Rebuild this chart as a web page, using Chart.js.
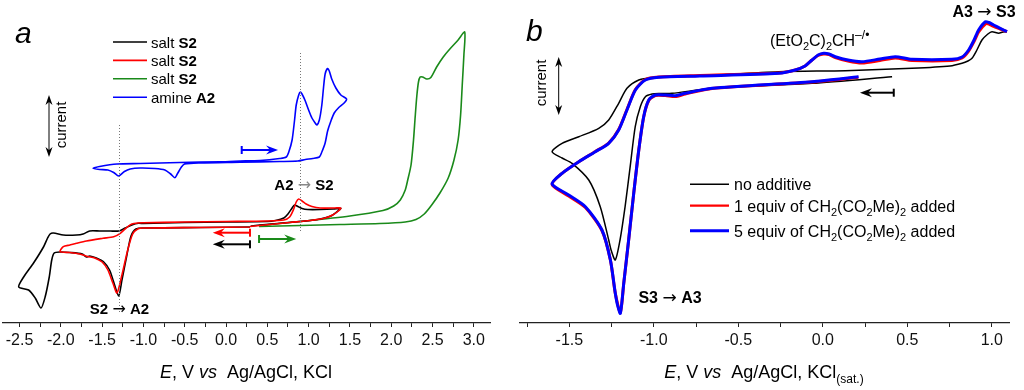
<!DOCTYPE html>
<html>
<head>
<meta charset="utf-8">
<script src="https://cdn.jsdelivr.net/npm/chart.js@4.4.1/dist/chart.umd.min.js"></script>
<style>
  body { margin: 0; background: #fff; }
  #wrap { position: relative; width: 1024px; height: 390px; }
  .panel { position: absolute; top: 0; width: 512px; height: 390px; }
</style>
</head>
<body>
<div id="wrap">
  <div class="panel" style="left:0"><canvas id="chartA"></canvas></div>
  <div class="panel" style="left:512px"><canvas id="chartB"></canvas></div>
</div>
<script>
// ---- panel a: potentials (V) and currents (arbitrary units) ----
const blackA_E = [0.29, -0.31, -1.00, -1.09, -1.15, -1.20, -1.26, -1.30, -1.36, -1.41, -1.48, -1.57, -1.65, -1.69, -1.74, -1.89, -2.01, -2.08,
  -2.11, -2.14, -2.19, -2.24, -2.31, -2.39, -2.51, -2.45, -2.33, -2.21, -2.16, -2.13, -2.09, -1.97, -1.81, -1.73, -1.65, -1.53, -1.40, -1.30,
  -1.22, -1.14, -1.06, -1.00, -0.50, 0.00, 0.50, 0.60, 0.70, 0.75, 0.80, 0.83, 0.87, 0.92, 0.99, 1.14, 1.30, 1.39,
  1.34, 1.27, 1.14, 0.96, 0.69, 0.41, 0.30];
const blackA_I = [9.6, 9.55, 9.5, 9.4, 8.7, 6.8, 4.3, 2.7, 4.1, 5.3, 6.1, 6.5, 6.7, 6.6, 6.9, 7.05, 7.1, 7.0,
  6.3, 4.6, 2.6, 1.5, 2.5, 3.3, 3.6, 4.6, 6.0, 7.6, 8.5, 8.9, 9.0, 8.8, 8.8, 8.9, 9.2, 9.2, 9.2, 9.2,
  9.5, 9.8, 9.97, 9.95, 10.05, 10.1, 10.15, 10.25, 10.5, 10.9, 11.5, 11.8, 11.65, 11.45, 11.35, 11.35, 11.4, 11.47,
  11.1, 10.7, 10.4, 10.2, 10.0, 9.8, 9.7];

const redA_E = [0.29, -0.31, -1.00, -1.07, -1.13, -1.19, -1.26, -1.32, -1.37, -1.43, -1.50, -1.59, -1.68, -1.77, -1.89, -2.01,
  -1.97, -1.89, -1.81, -1.69, -1.49, -1.36, -1.28, -1.20, -1.14, -1.07, -1.00, -0.50, 0.00, 0.50, 0.70, 0.77, 0.82, 0.85, 0.88,
  0.92, 0.97, 1.04, 1.14, 1.32, 1.39, 1.36, 1.29, 1.20, 1.02, 0.77, 0.53, 0.29];
const redA_I = [9.6, 9.55, 9.5, 9.4, 8.9, 7.3, 4.8, 3.0, 4.0, 5.3, 6.1, 6.5, 6.65, 6.9, 7.05, 7.13,
  7.63, 7.8, 7.97, 8.2, 8.47, 8.63, 8.97, 9.57, 9.9, 10.0, 10.02, 10.1, 10.15, 10.2, 10.3, 10.6, 11.4, 12.1, 12.4,
  12.2, 11.9, 11.65, 11.5, 11.5, 11.5, 11.2, 10.8, 10.5, 10.25, 10.05, 9.85, 9.65];

const greenA_E = [0.40, 0.90, 1.50, 1.90, 2.03, 2.11, 2.17, 2.20, 2.24, 2.27, 2.29, 2.31, 2.33, 2.35, 2.38, 2.43, 2.48, 2.55, 2.63, 2.71, 2.81, 2.89,
  2.88, 2.86, 2.84, 2.81, 2.76, 2.69, 2.59, 2.49, 2.40, 2.30, 2.17, 1.86, 1.38, 0.90, 0.40];
const greenA_I = [9.75, 10.15, 10.7, 11.25, 11.7, 12.3, 13.3, 14.3, 15.8, 18.3, 20.6, 22.7, 24.1, 24.6, 24.6, 24.4, 24.55, 25.6, 26.6, 27.4, 28.3, 29.1,
  26.8, 23.8, 20.8, 18.3, 16.3, 14.5, 13.0, 11.8, 10.9, 10.35, 10.1, 9.95, 9.85, 9.75, 9.65];

const blueA_E = [0.17, 0.41, 0.65, 0.73, 0.76, 0.80, 0.83, 0.85, 0.88, 0.90, 0.92, 0.96, 1.00, 1.04, 1.08, 1.10, 1.13, 1.16, 1.18, 1.20, 1.23, 1.25, 1.28, 1.33, 1.39, 1.46,
  1.43, 1.36, 1.31, 1.27, 1.23, 1.20, 1.16, 1.13, 1.05, 0.96, 0.87, 0.65, 0.17, -0.31, -0.50, -0.54, -0.59, -0.62, -0.67, -0.74, -0.86, -1.04, -1.16, -1.23, -1.30,
  -1.36, -1.43, -1.53, -1.61, -1.53, -1.32, -1.04, -0.56, -0.07, 0.17];
const blueA_I = [16.2, 16.25, 16.45, 16.6, 17.1, 18.3, 20.3, 21.8, 22.8, 23.1, 22.9, 22.2, 21.3, 20.5, 20.0, 19.8, 20.3, 21.8, 23.5, 24.9, 25.45, 25.2, 24.4, 23.5, 22.8, 22.4,
  22.0, 21.5, 21.0, 20.2, 19.2, 18.0, 17.1, 16.6, 16.45, 16.35, 16.2, 16.15, 16.07, 16.0, 15.9, 15.6, 14.9, 14.53, 14.9, 15.3, 15.45, 15.5, 15.4, 15.15, 14.7,
  15.05, 15.3, 15.35, 15.47, 15.65, 15.9, 15.95, 16.05, 16.12, 16.2];

const majorTicksA = [-2.5, -2.0, -1.5, -1.0, -0.5, 0.0, 0.5, 1.0, 1.5, 2.0, 2.5, 3.0];
const minorTicksA = [-2.25, -1.75, -1.25, -0.75, -0.25, 0.25, 0.75, 1.25, 1.75, 2.25, 2.75];

// ---- panel b ----
const blackB_E = [0.41, -0.064, -0.655, -0.892, -0.963, -1.01, -1.05, -1.08, -1.11, -1.14, -1.17, -1.20, -1.228, -1.253, -1.267, -1.317, -1.385, -1.484, -1.543, -1.602,
  -1.543, -1.444, -1.326, -1.267, -1.208, -1.159, -1.089, -1.011, -0.727, -0.261, 0.133, 0.528, 0.753, 0.824, 0.859, 0.883, 0.912, 0.942, 0.977, 1.001, 1.041, 1.066, 1.09];
const blackB_I = [24.63, 23.97, 23.47, 22.97, 22.95, 22.9, 22.63, 21.63, 19.63, 15.63, 11.63, 8.3, 6.3, 7.3, 8.3, 11.63, 14.3, 15.97, 16.5, 17.13,
  17.97, 18.63, 19.47, 20.3, 21.97, 23.47, 24.3, 24.53, 24.7, 25.13, 25.23, 25.47, 25.7, 25.97, 26.2, 26.47, 27.3, 28.3, 28.9, 29.13, 28.97, 29.1, 29.13];

const redB_E = [0.21, -0.064, -0.655, -0.814, -0.873, -0.932, -0.991, -1.03, -1.06, -1.089, -1.119, -1.149, -1.178, -1.198, -1.228, -1.257, -1.307, -1.405, -1.504, -1.602,
  -1.543, -1.444, -1.346, -1.267, -1.208, -1.159, -1.109, -1.05, -0.971, -0.727, -0.261, -0.163, -0.105, -0.064, -0.028, 0.005, 0.037, 0.074, 0.149, 0.232, 0.338, 0.429,
  0.528, 0.764, 0.824, 0.863, 0.895, 0.922, 0.962, 0.983, 1.011, 1.05, 1.09];
const redB_I = [24.57, 24.1, 23.45, 22.9, 22.65, 22.75, 22.75, 22.25, 20.6, 17.3, 12.97, 8.3, 3.97, 1.05, 2.97, 6.3, 9.25, 11.55, 12.7, 13.85,
  14.97, 16.13, 17.15, 18.0, 19.35, 21.35, 23.35, 24.35, 24.6, 24.75, 25.0, 25.3, 25.7, 26.3, 26.75, 26.9, 26.85, 26.55, 26.2, 26.0, 26.25, 26.5,
  26.25, 26.25, 26.5, 27.2, 28.15, 29.1, 29.9, 29.9, 29.65, 29.4, 29.13];

const blueB_E = [0.212, -0.064, -0.655, -0.814, -0.873, -0.932, -0.991, -1.03, -1.06, -1.089, -1.119, -1.149, -1.178, -1.198, -1.215, -1.228, -1.257, -1.307, -1.405, -1.504, -1.602,
  -1.543, -1.444, -1.346, -1.267, -1.208, -1.159, -1.109, -1.05, -0.971, -0.727, -0.261, -0.163, -0.105, -0.064, -0.028, 0.005, 0.037, 0.074, 0.149, 0.232, 0.338, 0.429,
  0.528, 0.764, 0.824, 0.863, 0.895, 0.922, 0.962, 0.983, 1.011, 1.05, 1.09];
const blueB_I = [24.63, 24.13, 23.47, 22.97, 22.73, 22.8, 22.8, 22.3, 20.63, 17.3, 12.97, 8.3, 3.97, 0.97, 1.8, 2.97, 6.3, 9.3, 11.63, 12.8, 13.9,
  14.97, 16.13, 17.13, 17.97, 19.3, 21.3, 23.3, 24.3, 24.57, 24.7, 24.97, 25.3, 25.7, 26.3, 26.8, 26.97, 26.9, 26.63, 26.3, 26.13, 26.4, 26.63,
  26.37, 26.37, 26.6, 27.3, 28.3, 29.3, 30.13, 30.05, 29.8, 29.47, 29.13];

const majorTicksB = [-1.5, -1.0, -0.5, 0.0, 0.5, 1.0];
const minorTicksB = [-1.75, -1.25, -0.75, -0.25, 0.25, 0.75];

const legendA = ['salt', 'salt', 'salt', 'amine'];
const legendA_bold = ['S2', 'S2', 'S2', 'A2'];

const FONT = '"Liberation Sans", Arial, sans-serif';
const ARROW_FONT = '"DejaVu Sans", sans-serif';

function toPts(E, I) {
  return E.map((e, i) => ({ x: e, y: I[i] }));
}

function line(label, E, I, color, w) {
  return { label: label, data: toPts(E, I), borderColor: color, backgroundColor: color,
    borderWidth: w, showLine: true, pointRadius: 0, tension: 0.25, clip: false };
}

function richText(ctx, parts, x, y, align) {
  let w = 0;
  parts.forEach(p => { ctx.font = p[1]; w += ctx.measureText(p[0]).width; });
  let cx = align === 'center' ? x - w / 2 : x;
  parts.forEach(p => {
    ctx.font = p[1];
    ctx.fillStyle = p[3] || '#000';
    ctx.fillText(p[0], cx, y + (p[2] || 0));
    cx += ctx.measureText(p[0]).width;
  });
}

function scanArrow(ctx, x0, x1, y, color) {
  const dir = Math.sign(x1 - x0);
  ctx.save();
  ctx.strokeStyle = color; ctx.fillStyle = color; ctx.lineWidth = 2;
  ctx.beginPath(); ctx.moveTo(x0, y); ctx.lineTo(x1 - dir * 6, y); ctx.stroke();
  ctx.beginPath(); ctx.moveTo(x0, y - 4); ctx.lineTo(x0, y + 4); ctx.stroke();
  ctx.beginPath();
  ctx.moveTo(x1, y); ctx.lineTo(x1 - dir * 12, y - 4.5); ctx.lineTo(x1 - dir * 8, y); ctx.lineTo(x1 - dir * 12, y + 4.5);
  ctx.closePath(); ctx.fill();
  ctx.restore();
}

function currentArrow(ctx, x, y0, y1, tx, ty) {
  ctx.save();
  ctx.strokeStyle = '#000'; ctx.fillStyle = '#000'; ctx.lineWidth = 1;
  ctx.beginPath(); ctx.moveTo(x, y0 + 3); ctx.lineTo(x, y1 - 3); ctx.stroke();
  [[y0, 1], [y1, -1]].forEach(([yy, d]) => {
    ctx.beginPath();
    ctx.moveTo(x, yy); ctx.lineTo(x - 3.5, yy + d * 10); ctx.lineTo(x, yy + d * 7); ctx.lineTo(x + 3.5, yy + d * 10);
    ctx.closePath(); ctx.fill();
  });
  ctx.translate(tx, ty); ctx.rotate(-Math.PI / 2);
  ctx.font = '15px ' + FONT; ctx.textAlign = 'center'; ctx.textBaseline = 'middle';
  ctx.fillText('current', 0, 0);
  ctx.restore();
}

function dotted(ctx, x, yTop, yBot) {
  ctx.save();
  ctx.strokeStyle = '#777'; ctx.lineWidth = 1; ctx.setLineDash([1, 2]);
  ctx.beginPath(); ctx.moveTo(Math.round(x) + 0.5, yTop); ctx.lineTo(Math.round(x) + 0.5, yBot); ctx.stroke();
  ctx.restore();
}

function xScale(min, max, major, minor) {
  const all = major.concat(minor).sort((a, b) => a - b);
  return {
    type: 'linear', min: min, max: max,
    afterBuildTicks: s => { s.ticks = all.map(v => ({ value: v })); },
    afterFit: s => { s.height = 67; },
    ticks: {
      autoSkip: false, maxRotation: 0, padding: 4, color: '#111',
      font: { family: FONT, size: 16 },
      callback: v => major.includes(v) ? v.toFixed(1) : ''
    },
    grid: { drawOnChartArea: false, drawTicks: true, tickLength: 4, color: '#222' },
    border: { color: '#222', width: 1.2 }
  };
}

const annotA = {
  id: 'annotA',
  afterDatasetsDraw(chart) {
    const ctx = chart.ctx, sx = chart.scales.x, sy = chart.scales.y;
    const X = v => sx.getPixelForValue(v), Y = v => sy.getPixelForValue(v);
    dotted(ctx, X(-1.30), Y(19.8), Y(1.0));
    dotted(ctx, X(0.89), Y(27.0), Y(9.0));
    scanArrow(ctx, X(0.29), X(-0.16), Y(9.03), '#ff0000');
    scanArrow(ctx, X(0.29), X(-0.16), Y(7.87), '#000000');
    scanArrow(ctx, X(0.40), X(0.85), Y(8.4), '#1a8a1a');
    scanArrow(ctx, X(0.19), X(0.63), Y(17.3), '#0000ff');
    ctx.save();
    ctx.textBaseline = 'alphabetic';
    ctx.fillStyle = '#000';
    ctx.font = 'italic 30px ' + FONT;
    ctx.fillText('a', 15, 43);
    const cols = ['#000000', '#ff0000', '#1a8a1a', '#0000ff'];
    legendA.forEach((t, i) => {
      const yy = 42 + i * 18.4;
      ctx.strokeStyle = cols[i]; ctx.lineWidth = 1.6;
      ctx.beginPath(); ctx.moveTo(113, yy); ctx.lineTo(147, yy); ctx.stroke();
      richText(ctx, [[t + ' ', '15px ' + FONT], [legendA_bold[i], 'bold 15px ' + FONT]], 151, yy + 5.5, 'left');
    });
    richText(ctx, [['A2 ', 'bold 15px ' + FONT], ['\u2192', '16px ' + ARROW_FONT, 0, '#888'], [' S2', 'bold 15px ' + FONT]], 304, 190, 'center');
    richText(ctx, [['S2 ', 'bold 15px ' + FONT], ['\u2192', '16px ' + ARROW_FONT], [' A2', 'bold 15px ' + FONT]], 119.5, 314, 'center');
    richText(ctx, [['E', 'italic 18px ' + FONT], [', V ', '18px ' + FONT], ['vs', 'italic 18px ' + FONT], ['  Ag/AgCl, KCl', '18px ' + FONT]], 246, 378, 'center');
    ctx.restore();
    currentArrow(ctx, 49, 95, 157, 62, 125);
  }
};

const annotB = {
  id: 'annotB',
  afterDatasetsDraw(chart) {
    const ctx = chart.ctx, sx = chart.scales.x, sy = chart.scales.y;
    const X = v => sx.getPixelForValue(v), Y = v => sy.getPixelForValue(v);
    scanArrow(ctx, X(0.42), X(0.22), Y(23.03), '#000000');
    ctx.save();
    ctx.textBaseline = 'alphabetic';
    ctx.fillStyle = '#000';
    ctx.font = 'italic 30px ' + FONT;
    ctx.fillText('b', 14, 41);
    const f = '16px ' + FONT, fs = '11px ' + FONT;
    richText(ctx, [['(EtO', f], ['2', fs, 4], ['C)', f], ['2', fs, 4], ['CH', f], ['\u2013/\u2022', '12px ' + FONT, -7]], 258, 46, 'left');
    richText(ctx, [['A3 ', 'bold 16px ' + FONT], ['\u2192', '17px ' + ARROW_FONT], [' S3', 'bold 16px ' + FONT]], 472, 17, 'center');
    richText(ctx, [['S3 ', 'bold 16px ' + FONT], ['\u2192', '17px ' + ARROW_FONT], [' A3', 'bold 16px ' + FONT]], 158, 302.5, 'center');
    const leg = [
      ['#000000', 1.6, 184.3, [['no additive', f]]],
      ['#ff0000', 2.2, 205.7, [['1 equiv of CH', f], ['2', fs, 4], ['(CO', f], ['2', fs, 4], ['Me)', f], ['2', fs, 4], [' added', f]]],
      ['#0000ff', 3, 230.7, [['5 equiv of CH', f], ['2', fs, 4], ['(CO', f], ['2', fs, 4], ['Me)', f], ['2', fs, 4], [' added', f]]]
    ];
    leg.forEach(l => {
      ctx.strokeStyle = l[0]; ctx.lineWidth = l[1];
      ctx.beginPath(); ctx.moveTo(178, l[2]); ctx.lineTo(217, l[2]); ctx.stroke();
      richText(ctx, l[3], 222, l[2] + 6, 'left');
    });
    richText(ctx, [['E', 'italic 18px ' + FONT], [', V ', '18px ' + FONT], ['vs', 'italic 18px ' + FONT], ['  Ag/AgCl, KCl', '18px ' + FONT], ['(sat.)', '12px ' + FONT, 5]], 252, 378, 'center');
    ctx.restore();
    currentArrow(ctx, 46.7, 57, 115, 29.5, 83);
  }
};

new Chart(document.getElementById('chartA'), {
  type: 'scatter',
  data: {
    datasets: [
      line('salt S2 (red)', redA_E, redA_I, '#ff0000', 1.6),
      line('salt S2 (black)', blackA_E, blackA_I, '#000000', 1.6),
      line('salt S2 (green)', greenA_E, greenA_I, '#1a8a1a', 1.6),
      line('amine A2', blueA_E, blueA_I, '#0000ff', 1.6)
    ]
  },
  options: {
    responsive: true, maintainAspectRatio: false, animation: false,
    layout: { padding: { left: 3, right: 22, top: 0, bottom: 0 } },
    plugins: { legend: { display: false }, tooltip: { enabled: false } },
    scales: {
      x: xScale(-2.70, 3.196, majorTicksA, minorTicksA),
      y: { display: false, min: 0, max: 32.3 }
    }
  },
  plugins: [annotA]
});

new Chart(document.getElementById('chartB'), {
  type: 'scatter',
  data: {
    datasets: [
      line('5 equiv', blueB_E, blueB_I, '#0000ff', 3),
      line('1 equiv', redB_E, redB_I, '#ff0000', 3),
      line('no additive', blackB_E, blackB_I, '#000000', 1.5)
    ]
  },
  options: {
    responsive: true, maintainAspectRatio: false, animation: false,
    layout: { padding: { left: 8, right: 15, top: 0, bottom: 0 } },
    plugins: { legend: { display: false }, tooltip: { enabled: false } },
    scales: {
      x: xScale(-1.792, 1.102, majorTicksB, minorTicksB),
      y: { display: false, min: 0, max: 32.3 }
    }
  },
  plugins: [annotB]
});
</script>
</body>
</html>
